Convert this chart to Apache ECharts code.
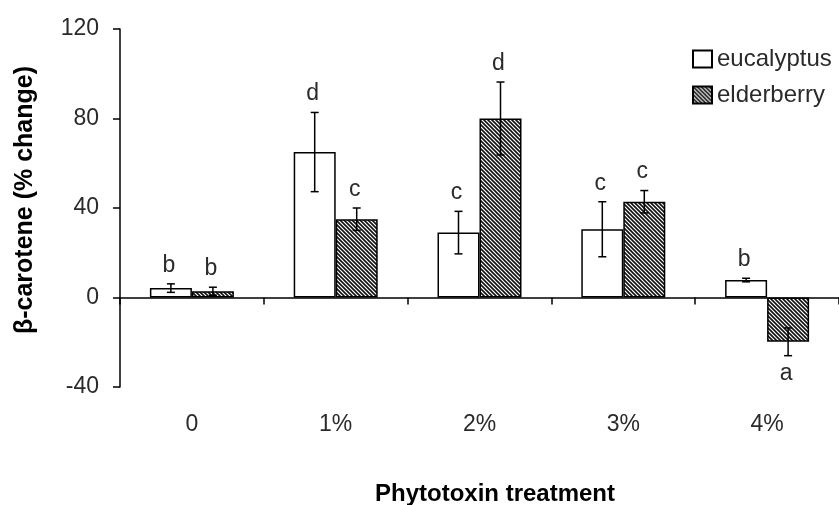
<!DOCTYPE html>
<html>
<head>
<meta charset="utf-8">
<script src="https://cdn.jsdelivr.net/npm/echarts@6/dist/echarts.min.js"></script>
<style>
html,body{margin:0;padding:0;background:#fff;}
#chart{width:839px;height:505px;}
</style>
</head>
<body>
<div id="chart"></div>
<script>
// ---- data ----
var categories = ['0', '1%', '2%', '3%', '4%'];
var seriesNames = ['eucalyptus', 'elderberry'];
var eucalyptusMean = [4.2, 65, 29, 30.5, 7.8];
var eucalyptusErr = [1.9, 17.7, 9.5, 12.3, 0.8];
var eucalyptusLetters = ['b', 'd', 'c', 'c', 'b'];
var elderberryMean = [2.8, 35, 80, 42.8, -19.8];
var elderberryErr = [1.8, 5, 16.3, 5, 6.2];
var elderberryLetters = ['b', 'c', 'd', 'c', 'a'];
var yTicks = { min: -40, max: 120, interval: 40 };
var yAxisTitle = 'β-carotene (% change)';
var xAxisTitle = 'Phytotoxin treatment';

// ---- styling ----
var FONT = "'Liberation Sans', Arial, sans-serif";
var TXT = '#2a2a2a';
var BAR_W = 42;

function hatchPattern() {
  var p = 4;
  var c = document.createElement('canvas');
  c.width = p; c.height = p;
  var g = c.getContext('2d');
  g.fillStyle = '#fff';
  g.fillRect(0, 0, p, p);
  g.strokeStyle = '#111';
  g.lineWidth = 1.6;
  g.beginPath();
  g.moveTo(-1, -1); g.lineTo(p + 1, p + 1);
  g.moveTo(-1, p - 1); g.lineTo(1, p + 1);
  g.moveTo(p - 1, -1); g.lineTo(p + 1, 1);
  g.stroke();
  return c;
}

function errSeries(means, errs, letters, offset) {
  var data = means.map(function (m, i) { return [i, m, errs[i]]; });
  return {
    type: 'custom',
    coordinateSystem: 'cartesian2d',
    z: 10,
    silent: true,
    encode: { x: 0, y: 1 },
    data: data,
    renderItem: function (params, api) {
      var idx = api.value(0);
      var mean = api.value(1);
      var err = api.value(2);
      var x = api.coord([idx, 0])[0] + offset;
      var yHi = api.coord([idx, mean + err])[1];
      var yLo = api.coord([idx, mean - err])[1];
      var cap = 4;
      var letter = letters[params.dataIndex];
      var lineStyle = { stroke: '#000', lineWidth: 1.5 };
      var children = [
        { type: 'line', shape: { x1: x, y1: yHi, x2: x, y2: yLo }, style: lineStyle },
        { type: 'line', shape: { x1: x - cap, y1: yHi, x2: x + cap, y2: yHi }, style: lineStyle },
        { type: 'line', shape: { x1: x - cap, y1: yLo, x2: x + cap, y2: yLo }, style: lineStyle }
      ];
      var pos = mean >= 0;
      children.push({
        type: 'text',
        style: {
          x: x - 2,
          y: pos ? yHi - 7 : yLo + 6,
          text: letter,
          fill: TXT,
          font: '23px ' + FONT,
          align: 'center',
          verticalAlign: pos ? 'bottom' : 'top'
        }
      });
      return { type: 'group', children: children };
    }
  };
}

var chart = echarts.init(document.getElementById('chart'), null, { renderer: 'canvas' });
var hatch = hatchPattern();

chart.setOption({
  animation: false,
  backgroundColor: '#fff',
  textStyle: { fontFamily: FONT },
  grid: { left: 120, top: 29, width: 719, height: 358, containLabel: false, outerBoundsMode: 'none' },
  legend: {
    orient: 'vertical',
    left: 692,
    top: 47,
    padding: 0,
    icon: 'rect',
    itemWidth: 19,
    itemHeight: 17,
    itemGap: 12,
    selectedMode: false,
    textStyle: { fontSize: 24, color: TXT, fontFamily: FONT },
    data: seriesNames
  },
  xAxis: {
    type: 'category',
    data: categories,
    name: xAxisTitle,
    nameLocation: 'middle',
    nameGap: 95,
    nameTextStyle: { fontSize: 24, fontWeight: 'bold', color: '#000', fontFamily: FONT, padding: [0, 0, 0, 31] },
    axisLine: { onZero: true, lineStyle: { color: '#000', width: 1.5 } },
    axisTick: { show: true, length: 7, lineStyle: { color: '#000', width: 1.5 } },
    axisLabel: { margin: 26, fontSize: 23, color: TXT, fontFamily: FONT },
    splitLine: { show: false }
  },
  yAxis: {
    type: 'value',
    min: yTicks.min,
    max: yTicks.max,
    interval: yTicks.interval,
    name: yAxisTitle,
    nameLocation: 'middle',
    nameGap: 82,
    nameRotate: 90,
    nameTextStyle: { fontSize: 25, fontWeight: 'bold', color: '#000', fontFamily: FONT, padding: [0, 0, 0, 16] },
    axisLine: { show: true, lineStyle: { color: '#000', width: 1.5 } },
    axisTick: { show: true, length: 7, lineStyle: { color: '#000', width: 1.5 } },
    axisLabel: { margin: 21, fontSize: 23, color: TXT, fontFamily: FONT },
    splitLine: { show: false }
  },
  series: [
    {
      name: seriesNames[0],
      type: 'bar',
      data: eucalyptusMean,
      barWidth: BAR_W,
      barGap: '0%',
      itemStyle: { color: '#fff', borderColor: '#000', borderWidth: 1.5 }
    },
    {
      name: seriesNames[1],
      type: 'bar',
      data: elderberryMean,
      barWidth: BAR_W,
      barGap: '0%',
      itemStyle: { color: { image: hatch, repeat: 'repeat' }, borderColor: '#000', borderWidth: 1.5 }
    },
    errSeries(eucalyptusMean, eucalyptusErr, eucalyptusLetters, -BAR_W / 2),
    errSeries(elderberryMean, elderberryErr, elderberryLetters, BAR_W / 2)
  ]
});
</script>
</body>
</html>
